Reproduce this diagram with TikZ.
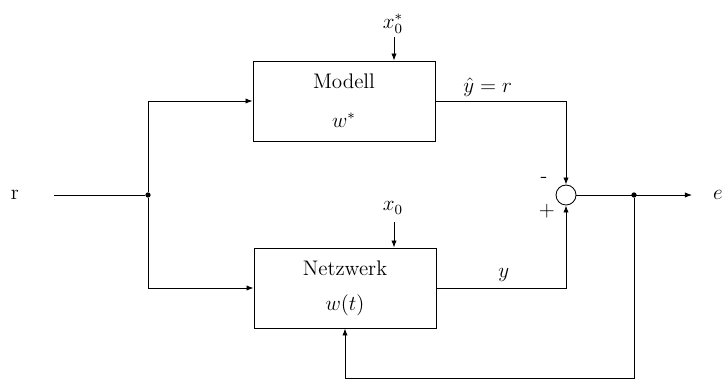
\documentclass[tikz,border=0pt]{standalone}
\usepackage{tikz}
\usetikzlibrary{arrows.meta,positioning,calc}

\begin{document}
\begin{tikzpicture}[x=0.02cm,y=-0.02cm,font=\large,line width=0.5pt,
  block/.style={draw,minimum width=3.64cm,minimum height=1.6cm,align=center,inner sep=0pt},
  sumnode/.style={draw,circle,minimum size=0.4cm,inner sep=0pt},
  arr/.style={-{Latex[length=4pt,width=3pt]}},
  dot/.style={circle,fill,inner sep=0pt,minimum size=3pt}]
\useasboundingbox (0,0) rectangle (726,379);
% blocks
\node[block] (modell) at (344,101) {Modell\\[8pt]$w^*$};
\node[block] (netz) at (345,288) {Netzwerk\\[6pt]$w(t)$};
\node[sumnode] (sum) at (566,195) {};
\node (r) at (15,195) {r};
\node[dot] (split) at (148,195) {};
\node[dot] (junc) at (634,195) {};
\node (e) at (718,195) {$e$};
\node (x0s) at (393,24) {$x_0^*$};
\node (x0) at (393,208) {$x_0$};
\coordinate (xs) at (394,37);
\coordinate (xn) at (394,222);
\coordinate (bot) at (634,378.7);
\coordinate (out) at (692,195);
% connections
\draw[shorten <=0.58cm] (r) -- (split);
\draw[arr] (split) |- (modell);
\draw[arr] (split) |- (netz);
\draw[arr] (xs) -- (xs |- modell.north);
\draw[arr] (xn) -- (xn |- netz.north);
\draw[arr] (modell) -- node[above,pos=0.4,inner sep=2pt]{$\hat y = r$} (modell -| sum) -- (sum);
\draw[arr] (netz) -- node[above,pos=0.52]{$y$} (netz -| sum) -- (sum);
\draw[arr] (sum) -- (out);
\draw[arr] (junc) -- (bot) -| (netz.south);
\node at (544,180) {-};
\node at (547,211) {+};
\end{tikzpicture}
\end{document}
